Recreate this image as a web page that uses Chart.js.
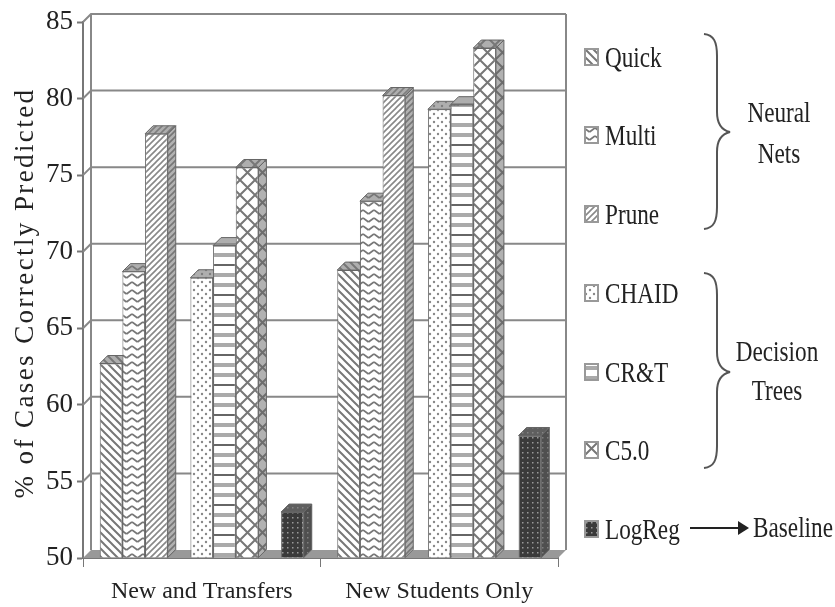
<!DOCTYPE html>
<html>
<head>
<meta charset="utf-8">
<title>% of Cases Correctly Predicted</title>
<script src="https://cdn.jsdelivr.net/npm/chart.js@4"></script>
<style>
	html, body { margin: 0; background: #fff; }
	#wrap { position: relative; width: 835px; height: 607px; overflow: hidden; font-family: "Liberation Serif", serif; color: #222; }
	#wrap canvas { position: absolute; }
	#wrap svg { position: absolute; left: 0; top: 0; }
	.txt { position: absolute; white-space: nowrap; font-size: 29px; line-height: 34px; }
	.left { transform: translateY(-50%) scaleX(0.8); transform-origin: left center; }
	.mid { transform: translate(-50%, -50%) scaleX(0.8); }
	#ytitle { left: 24px; top: 293px; font-size: 27px; letter-spacing: 2.4px; transform: translate(-50%, -50%) rotate(-90deg); }
</style>
</head>
<body>
<div id="wrap">
	<canvas id="myChart" width="835" height="607"></canvas>
	<div class="txt" id="ytitle">% of Cases Correctly Predicted</div>
	<svg width="835" height="607" fill="none" stroke="#555" stroke-width="2">
		<!-- braces and the arrow to Baseline -->
		<path d="M704 34 C714 35 717 42 717 56 L717 112 C717 124 721 130 730 132 C721 134 717 140 717 152 L717 207 C717 221 714 228 704 229"/>
		<path d="M704 273 C714 274 717 281 717 295 L717 352 C717 364 721 370 730 372 C721 374 717 380 717 392 L717 446 C717 460 714 467 704 468"/>
		<path d="M690 528 L740 528" stroke="#222"/>
		<path d="M738 521 L749 528 L738 535 Z" fill="#222" stroke="none"/>
	</svg>
	<div class="txt mid" style="left:779px;top:112px">Neural</div>
	<div class="txt mid" style="left:779px;top:153px">Nets</div>
	<div class="txt mid" style="left:777px;top:351px">Decision</div>
	<div class="txt mid" style="left:777px;top:390px">Trees</div>
	<div class="txt mid" style="left:793px;top:527px">Baseline</div>
</div>

<script>
const categories = ["New and Transfers", "New Students Only"];
const yTicks = [50, 55, 60, 65, 70, 75, 80, 85];

const quick = [62.7, 68.8];
const multi = [68.7, 73.3];
const prune = [77.7, 80.2];
const chaid = [68.3, 79.3];
const crt = [70.4, 79.6];
const c50 = [75.5, 83.3];
const logReg = [53, 58];
// empty slots that open the gaps between the model families
const gap = [null, null];

const seriesNames = ["Quick", "Multi", "Prune", "CHAID", "CR&T", "C5.0", "LogReg"];
const legendY = [57, 135, 214, 293, 372, 450, 529];

const depth = 8; // 3d offset of the box, both directions

function tile(w, h, paint) {
	const c = document.createElement('canvas');
	c.width = w;
	c.height = h;
	const g = c.getContext('2d');
	g.fillStyle = '#fff';
	g.fillRect(0, 0, w, h);
	paint(g);
	return c.getContext('2d').createPattern(c, 'repeat');
}

function lines(g, color, width, segs) {
	g.strokeStyle = color;
	g.lineWidth = width;
	g.beginPath();
	segs.forEach(s => {
		g.moveTo(s[0], s[1]);
		g.lineTo(s[2], s[3]);
	});
	g.stroke();
}

const quickFill = tile(8, 8, g => lines(g, '#777', 2, [[-8, 0, 8, 16], [0, 0, 8, 8], [0, -8, 16, 8]]));
const pruneFill = tile(6, 6, g => lines(g, '#888', 1.6, [[-6, 6, 6, -6], [0, 6, 6, 0], [0, 12, 12, 0]]));
const multiFill = tile(11, 8, g => lines(g, '#777', 1.8, [[0, 2, 5.5, 6], [5.5, 6, 11, 2]]));
const chaidFill = tile(8, 8, g => {
	g.fillStyle = '#888';
	[[2, 2], [6, 6]].forEach(p => {
		g.beginPath();
		g.arc(p[0], p[1], 1.2, 0, Math.PI * 2);
		g.fill();
	});
});
const crtFill = tile(4, 30, g => {
	g.fillStyle = '#aaa';
	g.fillRect(0, 3, 4, 4);
	g.fillRect(0, 13, 4, 4);
	g.fillStyle = '#666';
	g.fillRect(0, 24, 4, 2);
});
const c50Fill = tile(15, 15, g => lines(g, '#777', 2, [[0, 0, 15, 15], [15, 0, 0, 15]]));
const logFill = tile(5, 5, g => {
	g.fillStyle = '#3a3a3a';
	g.fillRect(0, 0, 5, 5);
	g.fillStyle = '#999';
	g.fillRect(2, 2, 1.5, 1.5);
});

const fills = [quickFill, multiFill, pruneFill, chaidFill, crtFill, c50Fill, logFill];

function barSet(label, data, fill) {
	return {label: label, data: data, base: yTicks[0], backgroundColor: fill, borderColor: '#666', borderWidth: 1};
}

// floor, back wall and the side and top faces of the bars
const boxes = {
	id: 'boxes',
	beforeDatasetsDraw(chart) {
		const ctx = chart.ctx;
		const a = chart.chartArea;
		const y = chart.scales.y;

		ctx.save();
		ctx.strokeStyle = '#888';
		ctx.lineWidth = 2;
		yTicks.forEach(v => {
			if (v === yTicks[0]) return;
			const py = y.getPixelForValue(v);
			ctx.beginPath();
			ctx.moveTo(a.left, py);
			ctx.lineTo(a.left + depth, py - depth);
			ctx.lineTo(a.right + depth, py - depth);
			ctx.stroke();
		});
		ctx.beginPath();
		ctx.moveTo(a.left + depth, a.top - depth);
		ctx.lineTo(a.left + depth, a.bottom - depth);
		ctx.moveTo(a.right + depth, a.top - depth);
		ctx.lineTo(a.right + depth, a.bottom - depth);
		ctx.stroke();

		ctx.fillStyle = '#999';
		ctx.beginPath();
		ctx.moveTo(a.left, a.bottom);
		ctx.lineTo(a.left + depth, a.bottom - depth);
		ctx.lineTo(a.right + depth, a.bottom - depth);
		ctx.lineTo(a.right, a.bottom);
		ctx.closePath();
		ctx.fill();

		ctx.strokeStyle = '#666';
		ctx.lineWidth = 1;
		chart.data.datasets.forEach((ds, i) => {
			chart.getDatasetMeta(i).data.forEach((bar, n) => {
				if (ds.data[n] === null) return;
				const x1 = bar.x - bar.width / 2;
				const x2 = bar.x + bar.width / 2;
				const side = new Path2D();
				side.moveTo(x2, bar.y);
				side.lineTo(x2 + depth, bar.y - depth);
				side.lineTo(x2 + depth, bar.base - depth);
				side.lineTo(x2, bar.base);
				side.closePath();
				const top = new Path2D();
				top.moveTo(x1, bar.y);
				top.lineTo(x1 + depth, bar.y - depth);
				top.lineTo(x2 + depth, bar.y - depth);
				top.lineTo(x2, bar.y);
				top.closePath();
				ctx.fillStyle = ds.backgroundColor;
				ctx.fill(side);
				ctx.fill(top);
				ctx.fillStyle = 'rgba(100,100,100,0.5)';
				ctx.fill(side);
				ctx.fillStyle = 'rgba(120,120,120,0.6)';
				ctx.fill(top);
				ctx.stroke(side);
				ctx.stroke(top);
			});
		});
		ctx.restore();
	}
};

const myChart = document.getElementById('myChart');

new Chart(myChart, {
	type: 'bar',
	data: {
		labels: categories,
		datasets: [
			barSet('Quick', quick, quickFill),
			barSet('Multi', multi, multiFill),
			barSet('Prune', prune, pruneFill),
			barSet('', gap, '#fff'),
			barSet('CHAID', chaid, chaidFill),
			barSet('CR&T', crt, crtFill),
			barSet('C5.0', c50, c50Fill),
			barSet('', gap, '#fff'),
			barSet('LogReg', logReg, logFill)
		]
	},
	options: {
		responsive: false,
		animation: false,
		layout: {padding: {top: 22, right: 277, left: 0, bottom: 0}},
		plugins: {legend: {display: false}, tooltip: {enabled: false}},
		datasets: {bar: {categoryPercentage: 0.859, barPercentage: 1}},
		scales: {
			x: {
				afterFit: s => { s.height = 49; },
				grid: {drawOnChartArea: false, color: '#777', tickLength: 9, tickWidth: 1},
				border: {color: '#777', width: 2},
				ticks: {color: '#222', padding: 10, font: {family: 'Liberation Serif', size: 24}}
			},
			y: {
				min: 50,
				max: 85,
				afterFit: s => { s.width = 83; },
				grid: {drawOnChartArea: false, color: '#777', tickLength: 6, tickWidth: 2},
				border: {color: '#777', width: 2},
				ticks: {stepSize: 5, color: '#222', padding: 4, font: {family: 'Liberation Serif', size: 27}}
			}
		}
	},
	plugins: [boxes]
});

// legend column, each swatch filled with its series pattern
const wrap = document.getElementById('wrap');
seriesNames.forEach((name, i) => {
	const sw = document.createElement('canvas');
	sw.width = 15;
	sw.height = 18;
	sw.style.left = '584px';
	sw.style.top = (legendY[i] - 9) + 'px';
	const g = sw.getContext('2d');
	g.fillStyle = fills[i];
	g.fillRect(0, 0, 15, 18);
	g.strokeStyle = '#999';
	g.lineWidth = 2;
	g.strokeRect(1, 1, 13, 16);
	wrap.appendChild(sw);

	const label = document.createElement('div');
	label.className = 'txt left';
	label.style.left = '605px';
	label.style.top = legendY[i] + 'px';
	label.textContent = name;
	wrap.appendChild(label);
});
</script>
</body>
</html>
